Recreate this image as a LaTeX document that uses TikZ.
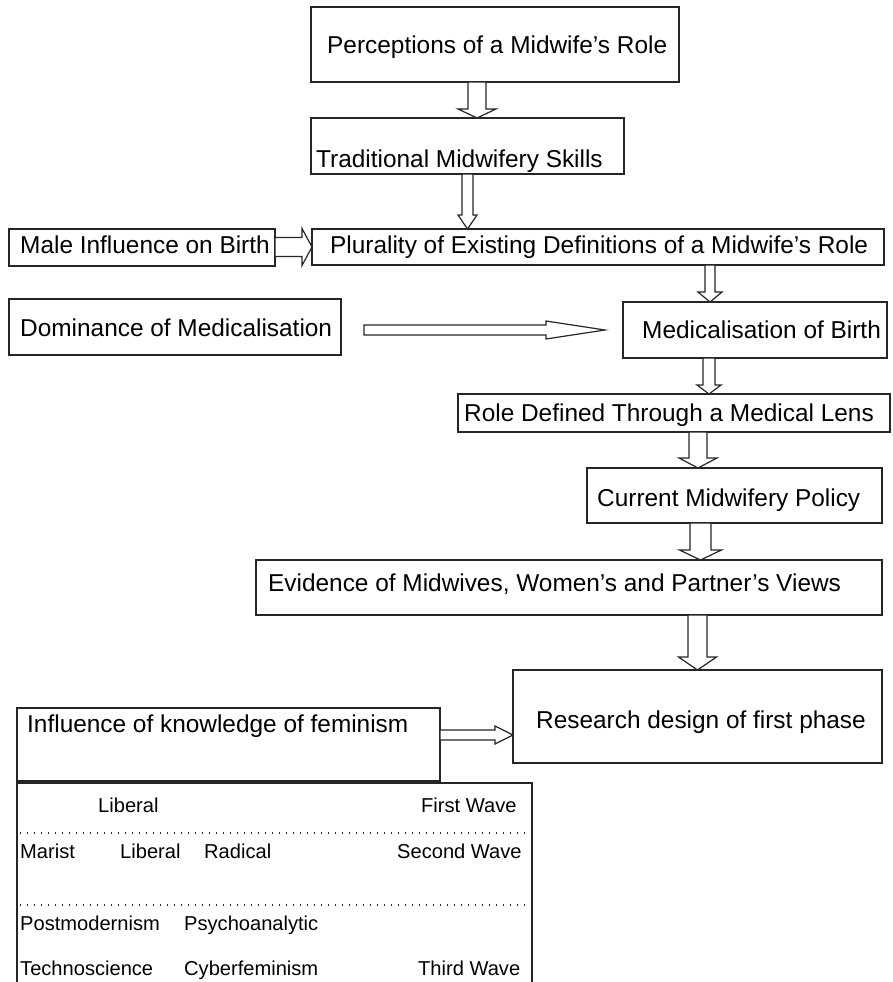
\documentclass[tikz,border=0pt]{standalone}
\usepackage{fontspec}
\setmainfont{Liberation Sans}
\usetikzlibrary{fit,calc}

% vertical block arrow: from anchor, to anchor, x, shaft half width, head half width, head length
\newcommand\vblk[6]{\draw[blk] let \p1=(#1), \p2=(#2) in
  (#3pt-#4pt,\y1) -- (#3pt+#4pt,\y1) -- (#3pt+#4pt,\y2+#6pt) -- (#3pt+#5pt,\y2+#6pt)
  -- (#3pt,\y2) -- (#3pt-#5pt,\y2+#6pt) -- (#3pt-#4pt,\y2+#6pt) -- cycle;}
% horizontal block arrow: from anchor, to anchor, y, shaft half width, head half width, head length
\newcommand\hblk[6]{\draw[blk] let \p1=(#1), \p2=(#2) in
  (\x1,-#3pt+#4pt) -- (\x2-#6pt,-#3pt+#4pt) -- (\x2-#6pt,-#3pt+#5pt) -- (\x2,-#3pt)
  -- (\x2-#6pt,-#3pt-#5pt) -- (\x2-#6pt,-#3pt-#4pt) -- (\x1,-#3pt-#4pt) -- cycle;}

\tikzset{
  box/.style={draw=black!85, line width=1.3pt, inner sep=0pt, outer sep=0pt, fill=white},
  txt/.style={anchor=base west, inner sep=0pt, font=\fontsize{24.4}{28}\selectfont},
  small/.style={anchor=base west, inner sep=0pt, font=\fontsize{20.1}{24}\selectfont},
  blk/.style={draw=black!85, line width=1.2pt, fill=white, line join=miter},
  dots/.style={draw=black!85, line width=1.3pt, dash pattern=on 1.4pt off 5.6pt}
}

\begin{document}
\begin{tikzpicture}[x=1pt,y=-1pt]
\useasboundingbox (0,0) rectangle (892,982);

% boxes
\node[box, fit={(311,7) (679,82)}]    (per) {};
\node[box, fit={(311,118) (624,174)}] (trad) {};
\node[box, fit={(312,229) (884,265)}] (plur) {};
\node[box, fit={(9,229) (275,266)}]   (male) {};
\node[box, fit={(9,299) (341,355)}]   (dom) {};
\node[box, fit={(623,302) (887,358)}] (med) {};
\node[box, fit={(458,394) (890,432)}] (role) {};
\node[box, fit={(587,468) (882,523)}] (cur) {};
\node[box, fit={(256,560) (882,615)}] (evi) {};
\node[box, fit={(513,670) (882,763)}] (res) {};
\node[box, fit={(17,708) (440,781)}]  (inf) {};

% box texts
\node[txt] (perT)  at (327,53)  {Perceptions of a Midwife’s Role};
\node[txt] (tradT) at (316,167) {Traditional Midwifery Skills};
\node[txt] (plurT) at (330,253) {Plurality of Existing Definitions of a Midwife’s Role};
\node[txt] (maleT) at (20,253)  {Male Influence on Birth};
\node[txt] (domT)  at (20,336)  {Dominance of Medicalisation};
\node[txt] (medT)  at (642,338) {Medicalisation of Birth};
\node[txt] (roleT) at (464,421) {Role Defined Through a Medical Lens};
\node[txt] (curT)  at (597,506) {Current Midwifery Policy};
\node[txt] (eviT)  at (268,591) {Evidence of Midwives, Women’s and Partner’s Views};
\node[txt] (resT)  at (536,728) {Research design of first phase};
\node[txt] (infT)  at (27,732)  {Influence of knowledge of feminism};

% block arrows
\vblk{per.south}{trad.north}{477}{9}{19}{9}
\vblk{trad.south}{plur.north}{467.5}{5.5}{9.5}{14}
\hblk{male.east}{plur.west}{247}{9.5}{18.5}{10}
\vblk{plur.south}{med.north}{710}{5}{12}{10}
\coordinate (domS) at (364,330);
\coordinate (domE) at (605,330);
\hblk{domS}{domE}{330}{5}{9}{59}
\vblk{med.south}{role.north}{709}{6}{12}{9}
\vblk{role.south}{cur.north}{698}{9}{19}{10}
\vblk{cur.south}{evi.north}{700.5}{10.5}{21}{10}
\vblk{evi.south}{res.north}{697.5}{9.5}{19}{13}
\hblk{inf.east}{res.west}{735}{5}{9}{18}

% feminism table
\draw[draw=black!85, line width=1.3pt] (17,982) -- (17,783) -- (532,783) -- (532,982);
\draw[dots] (20,833) -- (528,833);
\draw[dots] (20,905) -- (528,905);
\node[small] (t11) at (98,812)  {Liberal};
\node[small] (t12) at (421,812) {First Wave};
\node[small] (t21) at (20,858)  {Marist};
\node[small] (t22) at (120,858) {Liberal};
\node[small] (t23) at (204,858) {Radical};
\node[small] (t24) at (397,858) {Second Wave};
\node[small] (t31) at (20,930)  {Postmodernism};
\node[small] (t32) at (184,930) {Psychoanalytic};
\node[small] (t41) at (20,975)  {Technoscience};
\node[small] (t42) at (184,975) {Cyberfeminism};
\node[small] (t43) at (418,975) {Third Wave};
\end{tikzpicture}
\end{document}
